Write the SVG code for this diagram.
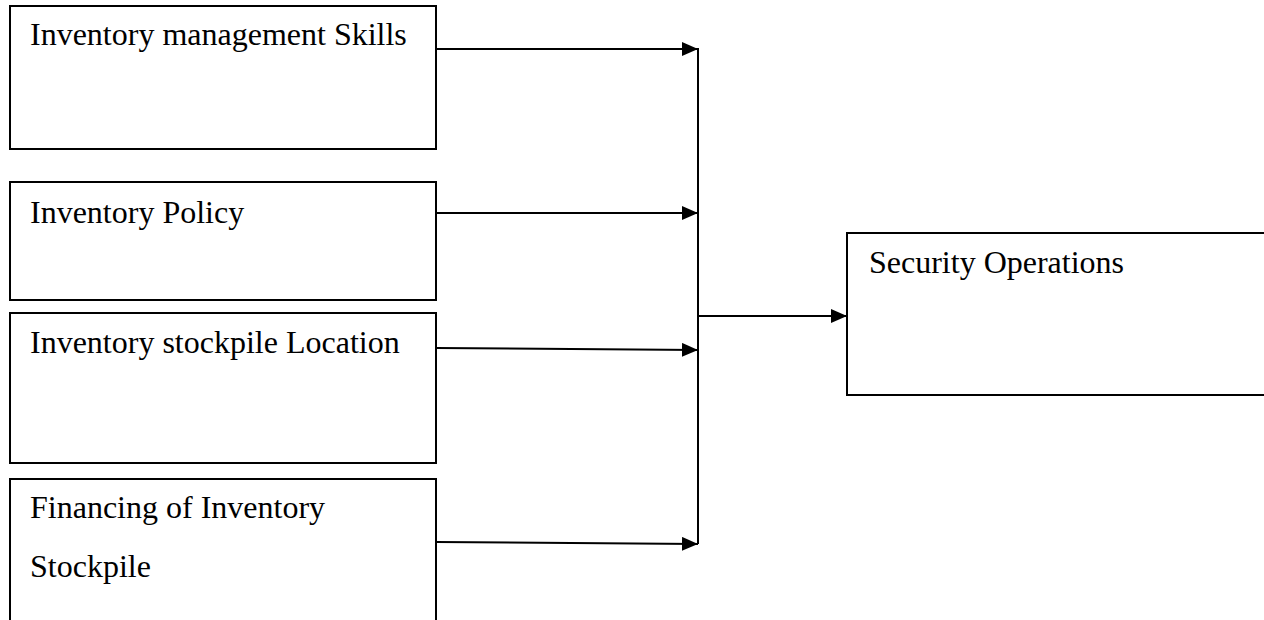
<svg xmlns="http://www.w3.org/2000/svg" width="1264" height="620" viewBox="0 0 1264 620">
<style>
.box{fill:#fff;stroke:#000;stroke-width:2}
.lbl{font-family:"Liberation Serif","Times New Roman",serif;font-size:32px;fill:#000}
.con{stroke:#000;stroke-width:2;fill:none}
</style>
<defs>
<marker id="arr" markerWidth="16" markerHeight="14" refX="16" refY="7" orient="auto" markerUnits="userSpaceOnUse">
<path d="M0,0 L16,7 L0,14 Z" fill="#000"/>
</marker>
</defs>
<rect width="1264" height="620" fill="#fff"/>
<g id="n1"><rect class="box" x="10" y="6" width="426" height="143"/><text class="lbl" x="30" y="45">Inventory management Skills</text></g>
<g id="n2"><rect class="box" x="10" y="182" width="426" height="118"/><text class="lbl" x="30" y="223">Inventory Policy</text></g>
<g id="n3"><rect class="box" x="10" y="313" width="426" height="150"/><text class="lbl" x="30" y="353">Inventory stockpile Location</text></g>
<g id="n4"><path class="box" d="M10,630 V479 H436 V630"/><text class="lbl" x="30" y="518">Financing of Inventory</text><text class="lbl" x="30" y="577">Stockpile</text></g>
<g id="n5"><rect class="box" x="847" y="233" width="430" height="162"/><text class="lbl" x="869" y="273">Security Operations</text></g>
<g id="connectors">
<line class="con" x1="436" y1="49" x2="698" y2="49" marker-end="url(#arr)"/>
<line class="con" x1="436" y1="213" x2="698" y2="213" marker-end="url(#arr)"/>
<line class="con" x1="436" y1="348" x2="698" y2="350" marker-end="url(#arr)"/>
<line class="con" x1="436" y1="542" x2="698" y2="544" marker-end="url(#arr)"/>
<line class="con" x1="698" y1="48" x2="698" y2="544"/>
<line class="con" x1="698" y1="316" x2="847" y2="316" marker-end="url(#arr)"/>
</g>
</svg>
